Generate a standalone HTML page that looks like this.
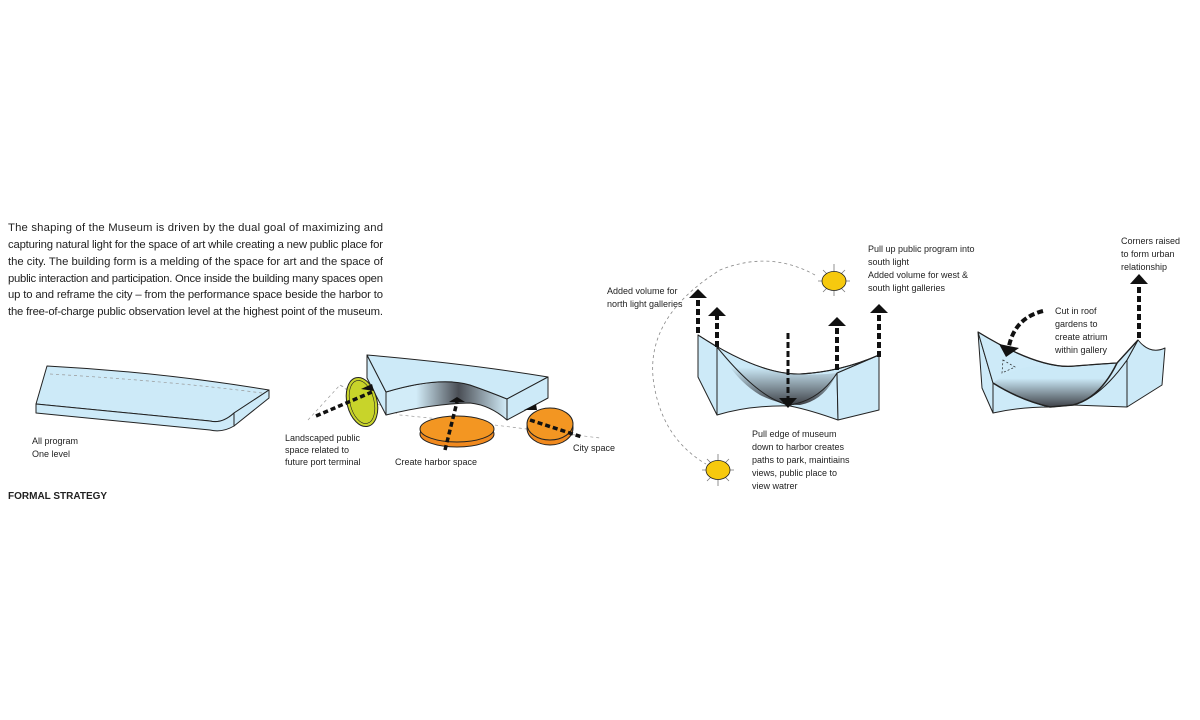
<!DOCTYPE html>
<html><head><meta charset="utf-8"><style>
html,body{margin:0;padding:0;background:#fff;}
svg{display:block;font-family:"Liberation Sans",Arial,sans-serif;}
</style></head><body>
<svg width="1200" height="720" viewBox="0 0 1200 720" xmlns="http://www.w3.org/2000/svg">
<defs>
<linearGradient id="g1" x1="0" x2="1" y1="0" y2="0">
<stop offset="0" stop-color="#d2ecf8"/><stop offset="0.25" stop-color="#d2ecf8"/><stop offset="0.6" stop-color="#4a4e55"/><stop offset="1" stop-color="#d2ecf8"/></linearGradient>
<linearGradient id="g2" x1="0" x2="0" y1="0" y2="1">
<stop offset="0" stop-color="#cbe9f7"/><stop offset="0.35" stop-color="#cbe9f7"/><stop offset="1" stop-color="#3f4248"/></linearGradient>
</defs>
<g font-size="11.3" fill="#222">
<text x="8" y="231" textLength="375" lengthAdjust="spacing">The shaping of the Museum is driven by the dual goal of maximizing and</text>
<text x="8" y="248" textLength="375" lengthAdjust="spacing">capturing natural light for the space of art while creating a new public place for</text>
<text x="8" y="265" textLength="375" lengthAdjust="spacing">the city. The building form is a melding of the space for art and the space of</text>
<text x="8" y="282" textLength="375" lengthAdjust="spacing">public interaction and participation. Once inside the building many spaces open</text>
<text x="8" y="298" textLength="375" lengthAdjust="spacing">up to and reframe the city – from the performance space beside the harbor to</text>
<text x="8" y="315" textLength="375" lengthAdjust="spacing">the free-of-charge public observation level at the highest point of the museum.</text>
</g>
<text x="8" y="499" font-size="10" font-weight="bold" fill="#222">FORMAL STRATEGY</text>

<!-- shape 1 -->
<g stroke="#222" stroke-width="1" fill="#cdeaf8" stroke-linejoin="round">
<path d="M47,366 L36,404 L210,421 Q222,424 234,413 L269,390 Q160,372 47,366 Z"/>
<path d="M36,404 L36,413 L210,430 Q222,433 234,426 L234,413 Q222,424 210,421 Z"/>
<path d="M234,413 L269,390 L269,398 L234,426 Z"/>
<path d="M50,374 Q170,381 262,393" fill="none" stroke="#999" stroke-dasharray="3 3" stroke-width="0.7"/>
</g>
<g font-size="9" fill="#222"><text x="32" y="444">All program</text><text x="32" y="457">One level</text></g>

<!-- shape 2 -->
<g stroke="#999" stroke-width="0.7" stroke-dasharray="3 3" fill="none">
<path d="M308,420 L340,385 L400,415 L470,422 L600,438"/>
<path d="M340,385 L372,408"/>
</g>
<g stroke="#222" stroke-width="1" stroke-linejoin="round">
<path d="M367,355 L386,392 L386,415 L367,378 Z" fill="#cdeaf8"/>
<path d="M386,392 Q440,376 470,385 Q490,392 507,399 L507,420 Q490,405 470,403 Q430,404 386,415 Z" fill="url(#g1)"/>
<path d="M367,355 Q470,364 548,377 L507,399 Q490,392 470,385 Q440,376 386,392 Z" fill="#cdeaf8"/>
<path d="M507,399 L548,377 L548,398 L507,420 Z" fill="#cdeaf8"/>
</g>
<ellipse cx="362" cy="402" rx="15" ry="25" transform="rotate(-14 362 402)" fill="#c8d42a" stroke="#222" stroke-width="1"/>
<ellipse cx="362" cy="402" rx="12" ry="22" transform="rotate(-14 362 402)" fill="none" stroke="#222" stroke-width="0.6"/>
<ellipse cx="457" cy="434" rx="37" ry="13" fill="#f0891e" stroke="#222" stroke-width="1"/>
<ellipse cx="457" cy="429" rx="37" ry="13" fill="#f39622" stroke="#222" stroke-width="1"/>
<ellipse cx="550" cy="428" rx="23" ry="17" fill="#f0891e" stroke="#222" stroke-width="1"/>
<ellipse cx="550" cy="424" rx="23" ry="16" fill="#f39622" stroke="#222" stroke-width="1"/>
<g stroke="#111" stroke-width="3.5" stroke-dasharray="5 3" fill="none">
<path d="M316,416 L372,392"/>
<path d="M445,450 L457,402"/>
<path d="M530,420 L582,437"/>
</g>
<g fill="#111">
<polygon points="361,389 372,384 374,391"/>
<polygon points="449,402 465,402 457,397"/>
<polygon points="524,410 536,404 537,410"/>
</g>
<g font-size="9" fill="#222">
<text x="285" y="441">Landscaped public</text><text x="285" y="453">space related to</text><text x="285" y="465">future port terminal</text>
<text x="395" y="465">Create harbor space</text>
<text x="573" y="451">City space</text>
</g>

<!-- shape 3 -->
<path d="M815,275 Q770,250 720,270 Q640,320 655,390 Q665,440 706,464" fill="none" stroke="#888" stroke-width="0.8" stroke-dasharray="3 3"/>
<g stroke="#222" stroke-width="1" stroke-linejoin="round">
<path d="M698,335 L717,347 L717,415 L698,377 Z" fill="#cdeaf8"/>
<path d="M717,347 Q760,400 790,405 Q820,400 837,373 L838,420 Q810,410 790,406 Q750,405 717,415 Z" fill="#cdeaf8"/>
<path d="M837,373 L879,355 L879,410 L838,420 Z" fill="#cdeaf8"/>
<path d="M698,335 Q760,375 800,374 Q840,372 879,355 L837,373 Q820,400 790,405 Q760,400 717,347 Z" fill="#cdeaf8"/>
<path d="M717,347 Q735,380 760,395 Q780,405 800,405 Q825,400 837,373 Q800,378 760,368 Q735,360 717,347 Z" fill="url(#g2)" stroke="none"/>
<path d="M717,347 Q760,400 790,405 Q820,400 837,373" fill="none"/>
<path d="M698,335 Q760,375 800,374 Q840,372 879,355" fill="none"/>
</g>
<g stroke="#111" stroke-width="4" stroke-dasharray="6 3" fill="none">
<path d="M698,333 L698,296"/><path d="M717,347 L717,314"/><path d="M837,370 L837,324"/><path d="M879,357 L879,311"/>
<path d="M788,333 L788,398" stroke-width="3"/>
</g>
<g fill="#111">
<polygon points="689,298 707,298 698,289"/><polygon points="708,316 726,316 717,307"/>
<polygon points="828,326 846,326 837,317"/><polygon points="870,313 888,313 879,304"/>
<polygon points="779,398 797,398 788,408"/>
</g>
<g stroke="#777" stroke-width="0.8">
<path d="M834,264 L834,296 M818,281 L850,281 M823,270 L845,292 M845,270 L823,292"/>
<path d="M718,454 L718,486 M702,470 L734,470 M707,459 L729,481 M729,459 L707,481"/>
</g>
<ellipse cx="834" cy="281" rx="12" ry="9.5" fill="#f6c90e" stroke="#222" stroke-width="0.8"/>
<ellipse cx="718" cy="470" rx="12" ry="9.5" fill="#f6c90e" stroke="#222" stroke-width="0.8"/>
<g font-size="9" fill="#222">
<text x="607" y="294">Added volume for</text><text x="607" y="307">north light galleries</text>
<text x="868" y="252">Pull up public program into</text><text x="868" y="265">south light</text><text x="868" y="278">Added volume for west &amp;</text><text x="868" y="291">south light galleries</text>
<text x="752" y="437">Pull edge of museum</text><text x="752" y="450">down to harbor creates</text><text x="752" y="463">paths to park, maintiains</text><text x="752" y="476">views, public place to</text><text x="752" y="489">view watrer</text>
</g>

<!-- shape 4 -->
<g stroke="#222" stroke-width="1" stroke-linejoin="round">
<path d="M978,332 L993,383 L993,413 L982,388 Z" fill="#cdeaf8"/>
<path d="M993,383 Q1020,400 1050,407 L1073,405 Q1100,398 1127,360 L1127,407 Q1100,406 1073,405 L1050,407 Q1020,407 993,413 Z" fill="#cdeaf8"/>
<path d="M1127,360 L1138,340 Q1150,355 1165,348 L1162,385 L1127,407 Z" fill="#cdeaf8"/>
<path d="M978,332 Q1040,370 1075,366 Q1100,364 1117,363 L1138,340 L1127,360 Q1100,398 1073,405 L1050,407 Q1020,400 993,383 Z" fill="#cdeaf8"/>
<path d="M993,383 Q1020,400 1050,407 L1073,405 Q1100,398 1117,363 Q1090,368 1060,368 Q1020,360 993,383 Z" fill="url(#g2)" stroke="none"/>
<path d="M993,383 Q1020,400 1050,407 L1073,405 Q1100,398 1117,363" fill="none" stroke-width="1.5"/>
<path d="M978,332 Q1040,370 1075,366 Q1100,364 1117,363 L1138,340" fill="none" stroke-width="1.3"/>
</g>
<path d="M1003,360 L1015,367 L1002,373 Z" fill="none" stroke="#222" stroke-width="0.7" stroke-dasharray="2 2"/>
<path d="M1043,311 Q1015,318 1009,346" fill="none" stroke="#111" stroke-width="4" stroke-dasharray="6 3"/>
<polygon points="999,344 1019,348 1006,357" fill="#111"/>
<path d="M1139,338 L1139,282" stroke="#111" stroke-width="4" stroke-dasharray="6 3"/>
<polygon points="1130,284 1148,284 1139,274" fill="#111"/>
<g font-size="9" fill="#222">
<text x="1055" y="314">Cut in roof</text><text x="1055" y="327">gardens to</text><text x="1055" y="340">create atrium</text><text x="1055" y="353">within gallery</text>
<text x="1121" y="244">Corners raised</text><text x="1121" y="257">to form urban</text><text x="1121" y="270">relationship</text>
</g>
</svg>
</body></html>
